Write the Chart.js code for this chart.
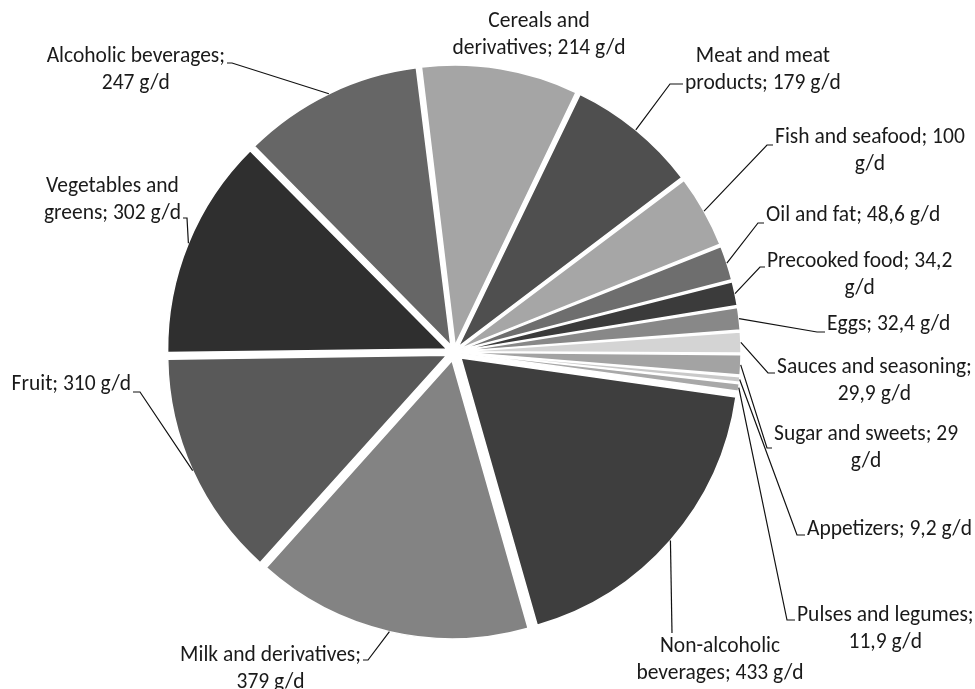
<!DOCTYPE html>
<html>
<head>
<meta charset="utf-8">
<script src="https://cdn.jsdelivr.net/npm/chart.js@4.4.1/dist/chart.umd.min.js"></script>
<style>
    body { margin: 0; background: #fff; }
    canvas { display: block; }
</style>
</head>
<body>
<canvas id="intake_Chart" width="975" height="689"></canvas>
<script>
// food groups, clockwise from the top
const foodGroups = [
    'Cereals and derivatives',
    'Meat and meat products',
    'Fish and seafood',
    'Oil and fat',
    'Precooked food',
    'Eggs',
    'Sauces and seasoning',
    'Sugar and sweets',
    'Appetizers',
    'Pulses and legumes',
    'Non-alcoholic beverages',
    'Milk and derivatives',
    'Fruit',
    'Vegetables and greens',
    'Alcoholic beverages',
];
// intake in g/d
const intake = [214, 179, 100, 48.6, 34.2, 32.4, 29.9, 29, 9.2, 11.9, 433, 379, 310, 302, 247];

const sliceColors = [
    '#a5a5a5', '#4f4f4f', '#a6a6a6', '#6e6e6e', '#3b3b3b',
    '#888888', '#d4d4d4', '#a3a3a3', '#c9c9c9', '#a8a8a8',
    '#3e3e3e', '#838383', '#595959', '#2f2f2f', '#666666',
];

// how many words of each label go on its first line
const firstLineWords = [2, 3, 4, 9, 3, 9, 3, 4, 9, 3, 1, 3, 9, 2, 2];

// label placement: centre x, first line y, leader elbow x/y, x where the leader meets the text
const labelLayout = [
    [539, 22, null, null, null],
    [774, 57, 670, 84, 683],
    [868, 138, 767, 145, 773],
    [856, 216, 758, 223, 764],
    [860, 262, 760, 267, 765],
    [893, 325, 817, 332, 825],
    [875, 368, 768, 373, 775],
    [868, 435, 767, 448, 772],
    [891, 530, 797, 535, 805],
    [886, 616, 787, 620, 795],
    [720, 647, 672, 633, 672],
    [270, 656, 368, 660, 363],
    [72, 385, 140, 392, 133],
    [115, 187, 187, 218, 183],
    [131, 57, 232, 63, 227],
];

const total = intake.reduce((a, b) => a + b, 0);
const lineHeight = 27;

function labelText(i) {
    const words = (foodGroups[i] + '; ' + String(intake[i]).replace('.', ',') + ' g/d').split(' ');
    const n = firstLineWords[i];
    const lines = [words.slice(0, n).join(' ')];
    if (n < words.length) lines.push(words.slice(n).join(' '));
    return lines;
}

// every slice is pulled out the same distance from the centre
function sliceOffset(context) {
    const circ = intake[context.dataIndex] / total * Math.PI * 2;
    const fix = 1 - Math.sin(Math.min(Math.PI, circ));
    return 40 / (1 + fix);
}

const leaderLabels = {
    id: 'leaderLabels',
    afterDatasetsDraw(chart) {
        const ctx = chart.ctx;
        const arcs = chart.getDatasetMeta(0).data;
        ctx.save();
        ctx.font = '21.5px Carlito, Lato, sans-serif';
        ctx.fillStyle = '#1a1a1a';
        ctx.strokeStyle = '#111';
        ctx.lineWidth = 1.2;
        ctx.textAlign = 'center';
        ctx.textBaseline = 'middle';
        arcs.forEach((arc, i) => {
            let [cx, y1, ex, ey, tx] = labelLayout[i];
            const lines = labelText(i);
            if (ex !== null && tx !== ex) {
                // slide the text so the line next to the leader starts where the leader stops
                let k = 0;
                lines.forEach((line, j) => {
                    if (Math.abs(y1 + j * lineHeight - ey) < Math.abs(y1 + k * lineHeight - ey)) k = j;
                });
                const w = ctx.measureText(lines[k]).width;
                cx = tx > ex ? tx + 2 + w / 2 : tx - 2 - w / 2;
            }
            lines.forEach((line, k) => ctx.fillText(line, cx, y1 + k * lineHeight));
            if (ex === null) return;
            const {x, y, startAngle, endAngle, outerRadius, circumference} =
                arc.getProps(['x', 'y', 'startAngle', 'endAngle', 'outerRadius', 'circumference'], true);
            const mid = (startAngle + endAngle) / 2;
            const shift = (arc.options.offset || 0) / 4;
            const fix = 1 - Math.sin(Math.min(Math.PI, circumference));
            const r = outerRadius + shift * fix + shift;
            ctx.beginPath();
            ctx.moveTo(x + Math.cos(mid) * r, y + Math.sin(mid) * r);
            ctx.lineTo(ex, ey);
            ctx.lineTo(tx, ey);
            ctx.stroke();
        });
        ctx.restore();
    }
};

new Chart(document.getElementById('intake_Chart').getContext('2d'), {
    type: 'pie',
    data: {
        labels: foodGroups,
        datasets: [{
            data: intake,
            backgroundColor: sliceColors,
            borderColor: '#ffffff',
            borderWidth: 1.5,
            offset: sliceOffset,
        }]
    },
    options: {
        responsive: false,
        animation: false,
        events: [],
        rotation: -7,
        radius: 277,
        layout: {
            padding: { left: 100, right: 167, top: 40, bottom: 25 }
        },
        plugins: {
            legend: { display: false },
            tooltip: { enabled: false },
        }
    },
    plugins: [leaderLabels]
});
</script>
</body>
</html>
